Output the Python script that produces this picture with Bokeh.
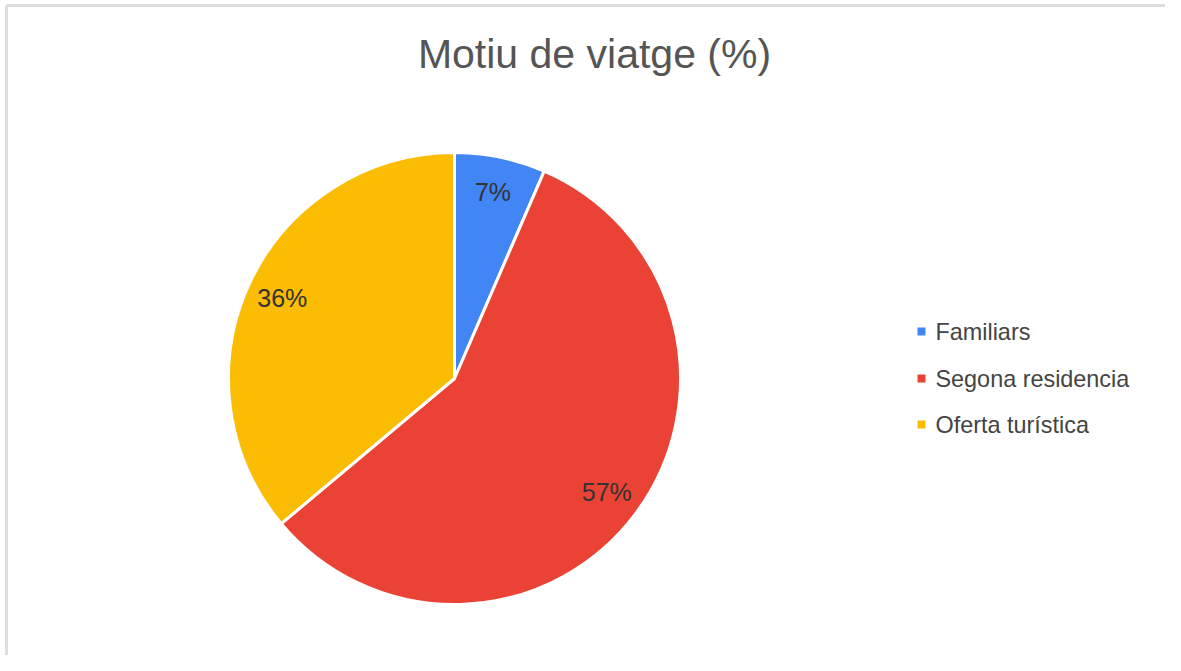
import math
from bokeh.plotting import figure
from bokeh.models import ColumnDataSource
from bokeh.core.properties import value
from bokeh.embed import file_html
from bokeh.resources import INLINE

# ---- data ----
categories = ["Familiars", "Segona residencia", "Oferta turística"]
shares = [6.5, 57.4, 36.1]
share_labels = ["7%", "57%", "36%"]
colors = ["#4285F4", "#EA4335", "#FBBC04"]
title_text = "Motiu de viatge (%)"

W, H = 1165, 655
FONT = value("Liberation Sans")

def px(x, y):
    # image pixel -> data coords
    return x, H - y

p = figure(width=W, height=H, x_range=(0, W), y_range=(0, H),
           output_backend="svg", toolbar_location=None,
           min_border=0, min_border_left=0, min_border_right=0,
           min_border_top=0, min_border_bottom=0)
p.axis.visible = False
p.grid.visible = False
p.outline_line_color = None
p.background_fill_color = "white"
p.border_fill_color = "white"

# frame lines (top and left)
fx, fy = px(6, 5)
p.segment(x0=[fx, fx], y0=[0, fy], x1=[fx, W], y1=[fy, fy],
          line_color="#dddddd", line_width=3)

# pie
cx, cy = px(454, 378)
R = 226
total = sum(shares)
starts, ends, lx, ly = [], [], [], []
acc = 0.0
for s in shares:
    a0 = math.pi / 2 - 2 * math.pi * acc / total
    a1 = math.pi / 2 - 2 * math.pi * (acc + s) / total
    starts.append(a0)
    ends.append(a1)
    mid = (a0 + a1) / 2
    lx.append(cx + 190 * math.cos(mid))
    ly.append(cy + 190 * math.sin(mid))
    acc += s

src = ColumnDataSource(dict(start=starts, end=ends, color=colors,
                            lx=lx, ly=ly, lab=share_labels, cat=categories))
p.wedge(x=cx, y=cy, radius=R, start_angle="start", end_angle="end",
        direction="clock", fill_color="color", line_color="white",
        line_width=3, source=src)
p.text(x="lx", y="ly", text="lab", source=src, text_font=FONT,
       text_font_size="25px", text_color="#333333",
       text_align="center", text_baseline="middle")

# title
tx, ty = px(594, 53)
p.text(x=[tx], y=[ty], text=[title_text], text_font=FONT,
       text_font_size="41px", text_color="#555555",
       text_align="center", text_baseline="middle")

# legend
leg_x, _ = px(921, 0)
txt_x, _ = px(935, 0)
leg_ys = [px(0, yy)[1] for yy in (331, 378, 424)]
p.rect(x=[leg_x] * 3, y=leg_ys, width=8, height=8, fill_color=colors,
       line_color=None)
p.text(x=[txt_x] * 3, y=leg_ys, text=categories, text_font=FONT,
       text_font_size="23.4px", text_color="#444444",
       text_align="left", text_baseline="middle")

open("out.html", "w").write(file_html(p, INLINE))
